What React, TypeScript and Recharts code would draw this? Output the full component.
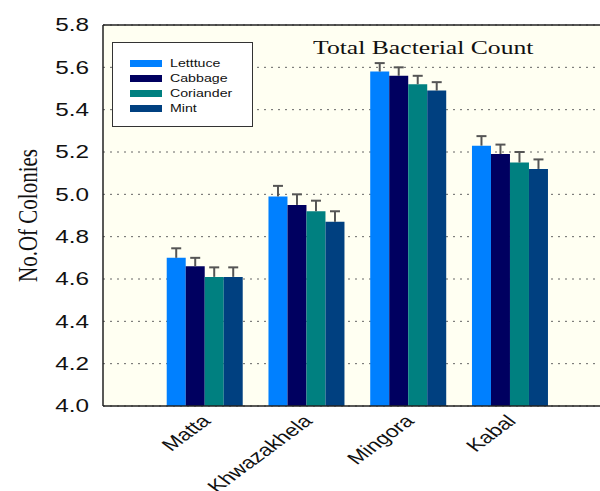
import React from "react";
import {
  BarChart,
  Bar,
  XAxis,
  YAxis,
  CartesianGrid,
  ErrorBar,
  Legend,
  ReferenceLine,
} from "recharts";

// sites and mean log counts per vegetable
const sites = ["Matta", "Khwazakhela", "Mingora", "Kabal"];
const lettuce = [4.70, 4.99, 5.58, 5.23];
const cabbage = [4.66, 4.95, 5.56, 5.19];
const coriander = [4.61, 4.92, 5.52, 5.15];
const mint = [4.61, 4.87, 5.49, 5.12];

// upper error (only the upper whisker is drawn)
const lettuceErr = [0.045, 0.05, 0.04, 0.045];
const cabbageErr = [0.04, 0.05, 0.04, 0.045];
const corianderErr = [0.045, 0.05, 0.04, 0.05];
const mintErr = [0.045, 0.05, 0.04, 0.045];

const yTicks = [4.0, 4.2, 4.4, 4.6, 4.8, 5.0, 5.2, 5.4, 5.6, 5.8];

const series = [
  { key: "lettuce", name: "Letttuce", color: "#0080ff" },
  { key: "cabbage", name: "Cabbage", color: "#000060" },
  { key: "coriander", name: "Coriander", color: "#008080" },
  { key: "mint", name: "Mint", color: "#004080" },
];

const data = sites.map((site, i) => ({
  site,
  lettuce: lettuce[i],
  cabbage: cabbage[i],
  coriander: coriander[i],
  mint: mint[i],
  lettuceErr: [0, lettuceErr[i]],
  cabbageErr: [0, cabbageErr[i]],
  corianderErr: [0, corianderErr[i]],
  mintErr: [0, mintErr[i]],
}));

const SANS = "'Liberation Sans', Arial, sans-serif";
const SERIF = "'Liberation Serif', 'Times New Roman', serif";
const STRETCH = 1.35;

const YTick = ({ x, y, payload }: any) => (
  <g transform={`translate(${x - 14},${y})`}>
    <text
      transform={`scale(${STRETCH},1)`}
      textAnchor="end"
      dy="0.36em"
      fontFamily={SANS}
      fontSize={18}
      fill="#111"
    >
      {Number(payload.value).toFixed(1)}
    </text>
  </g>
);

const XTick = ({ x, y, payload }: any) => (
  <g transform={`translate(${x + 7},${y + 16}) scale(${STRETCH},1)`}>
    <text transform="rotate(-45)" textAnchor="end" fontFamily={SANS} fontSize={17} fill="#111">
      {payload.value}
    </text>
  </g>
);

const YLabel = ({ viewBox }: any) => {
  const cx = viewBox.x + 27;
  const cy = viewBox.y + viewBox.height / 2;
  return (
    <g transform={`translate(${cx},${cy}) scale(${STRETCH},1)`}>
      <text transform="rotate(-90)" textAnchor="middle" dy="0.35em" fontFamily={SERIF} fontSize={21} fill="#111">
        No.Of Colonies
      </text>
    </g>
  );
};

// legend keeps the series order instead of the sorted payload
const LegendBox = () => (
  <div
    style={{
      position: "relative",
      width: 141,
      height: 85,
      boxSizing: "border-box",
      border: "1px solid #333",
      background: "#fff",
    }}
  >
    {series.map((s, i) => (
      <div key={s.key} style={{ position: "absolute", left: 0, top: 20 + i * 15 - 8, height: 16, width: "100%" }}>
        <div style={{ position: "absolute", left: 17, top: 5, width: 32, height: 7, background: s.color }} />
        <div
          style={{
            position: "absolute",
            left: 57,
            top: 0,
            fontFamily: SANS,
            fontSize: 10.5,
            lineHeight: "16px",
            color: "#111",
            whiteSpace: "nowrap",
            transform: `scaleX(${STRETCH})`,
            transformOrigin: "left center",
          }}
        >
          {s.name}
        </div>
      </div>
    ))}
  </div>
);

export default function App() {
  const errStroke = "#555";
  return (
    <div
      style={{
        position: "absolute",
        left: 0,
        top: 0,
        width: 600,
        height: 491,
        overflow: "hidden",
        background: "#fff",
      }}
    >
      {/* whiskers only go upward: hide the cap sitting on the bar top */}
      <style>{`.recharts-errorBar line:nth-of-type(3){stroke-opacity:0}`}</style>
      <BarChart
        width={640}
        height={491}
        data={data}
        margin={{ top: 25, right: 28, bottom: 0, left: 0 }}
        barCategoryGap="12.5%"
        barGap={0}
      >
        <CartesianGrid vertical={false} stroke="#666" strokeDasharray="2 5" fill="#fffff2" />
        <XAxis
          dataKey="site"
          height={85}
          padding={{ left: 51, right: 51 }}
          axisLine={{ stroke: "#222", strokeWidth: 1.5 }}
          tickLine={false}
          tickSize={0}
          tickMargin={0}
          tick={<XTick />}
          interval={0}
        />
        <YAxis
          width={103}
          domain={[4, 5.8]}
          ticks={yTicks}
          allowDataOverflow
          axisLine={{ stroke: "#222", strokeWidth: 1.5 }}
          tickLine={false}
          tickSize={0}
          tickMargin={0}
          tick={<YTick />}
          label={{ content: <YLabel /> }}
        />
        <ReferenceLine y={5.8} stroke="#222" strokeWidth={1.5} />
        <Legend
          layout="vertical"
          align="center"
          verticalAlign="middle"
          content={<LegendBox />}
          wrapperStyle={{ left: 112, top: 42, width: 141, height: 85 }}
        />
        {series.map((s) => (
          <Bar key={s.key} dataKey={s.key} name={s.name} fill={s.color} isAnimationActive={false}>
            <ErrorBar dataKey={`${s.key}Err`} width={5} stroke={errStroke} strokeWidth={2} direction="y" />
          </Bar>
        ))}
      </BarChart>
      <div
        style={{
          position: "absolute",
          left: 313,
          top: 36,
          fontFamily: SERIF,
          fontSize: 19,
          lineHeight: "24px",
          color: "#111",
          whiteSpace: "nowrap",
          transform: `scaleX(${STRETCH})`,
          transformOrigin: "left center",
        }}
      >
        Total Bacterial Count
      </div>
    </div>
  );
}
